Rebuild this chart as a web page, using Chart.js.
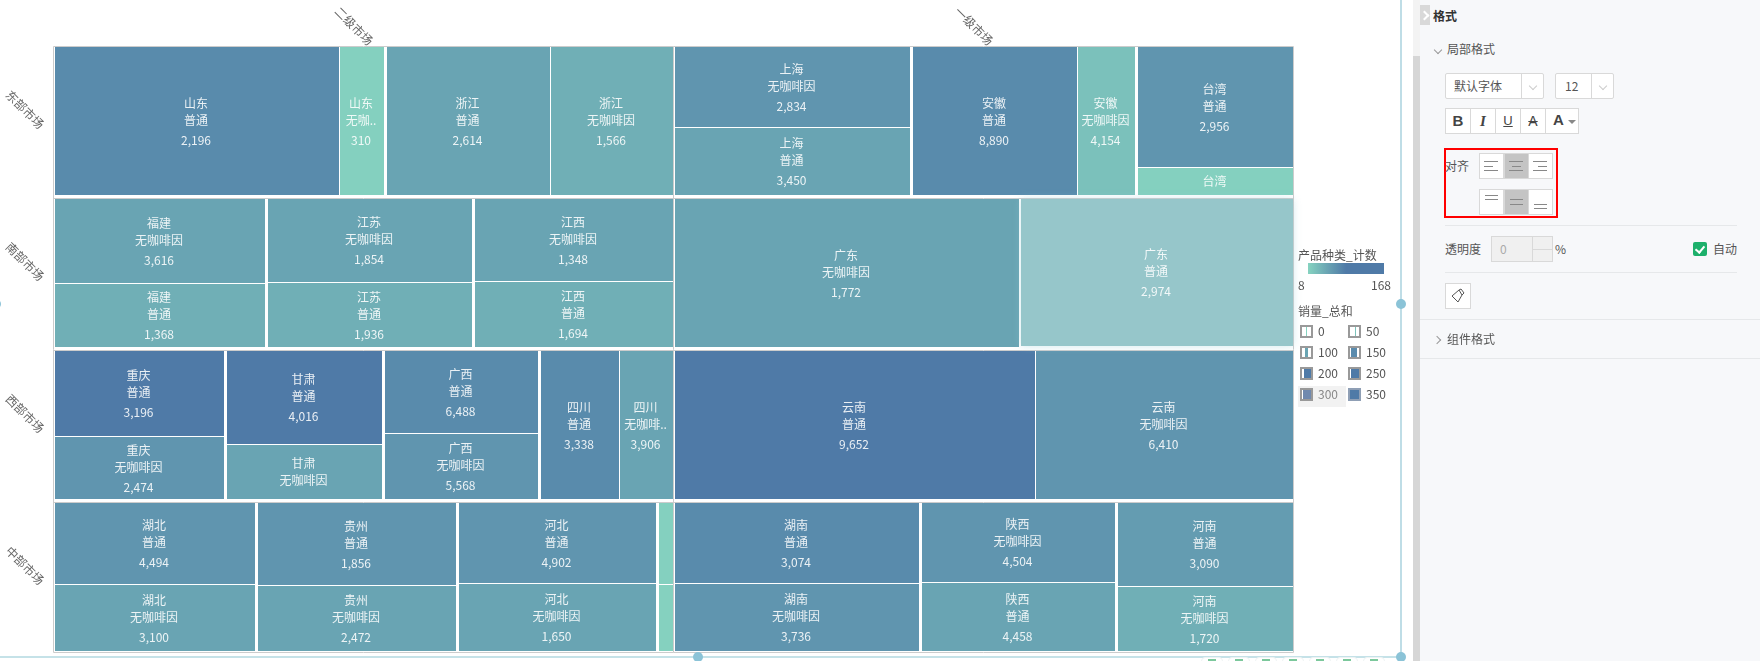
<!DOCTYPE html>
<html>
<head>
<meta charset="utf-8">
<title>产品种类 矩形树图</title>
<script src="https://cdn.jsdelivr.net/npm/chart.js@4"></script>
<style>
    html, body { margin: 0; padding: 0; width: 1760px; height: 661px; overflow: hidden; background: #fff; }
    body { font: 12px "Noto Sans CJK SC", sans-serif; color: #555; position: relative; }
    #chart { position: absolute; left: 0; top: 0; }
    .abs { position: absolute; box-sizing: border-box; }
    .txt { position: absolute; line-height: 16px; white-space: nowrap; }
    .btn { position: absolute; box-sizing: border-box; background: #fff; border: 1px solid #d9d9d9; text-align: center; }
    .line { position: absolute; background: #e6e8ea; height: 1px; }
    .chev { position: absolute; width: 5px; height: 5px; border-right: 1px solid #999; border-bottom: 1px solid #999; }
</style>
</head>
<body>
<canvas id="chart" width="1760" height="661"></canvas>

<!-- selection frame around the chart -->
<div class="abs" style="left:1400px;top:0;width:2px;height:658px;background:#bfdde6"></div>
<div class="abs" style="left:0;top:656px;width:1402px;height:2px;background:#c5e2e8"></div>
<div class="abs" style="left:1396px;top:299px;width:10px;height:10px;border-radius:50%;background:#8bc3d7"></div>
<div class="abs" style="left:693px;top:652px;width:10px;height:10px;border-radius:50%;background:#8bc3d7"></div>
<div class="abs" style="left:1396px;top:652px;width:10px;height:10px;border-radius:50%;background:#8bc3d7"></div>
<div class="abs" style="left:-9px;top:299px;width:10px;height:10px;border-radius:50%;background:#8bc3d7"></div>
<div id="toolbar"></div>

<!-- legends -->
<div class="txt" style="left:1298px;top:247px">产品种类_计数</div>
<div class="abs" style="left:1308px;top:263px;width:76px;height:11px;background:linear-gradient(90deg,#86d3c0 0%,#6aa5b3 25%,#4f7aa7 50%,#4f7aa7 100%)"></div>
<div class="txt" id="countMin" style="left:1298px;top:277px"></div>
<div class="txt" id="countMax" style="right:369px;top:277px"></div>
<div class="txt" style="left:1298px;top:303px">销量_总和</div>
<div id="salesLegend"></div>

<!-- format panel -->
<div class="abs" style="left:1413px;top:0;width:7px;height:661px;background:#f3f3f3"></div>
<div class="abs" style="left:1413px;top:56px;width:7px;height:605px;background:#d6d6d6"></div>
<div class="abs" style="left:1420px;top:0;width:340px;height:661px;background:#f7f8fa"></div>
<div class="abs" style="left:1420px;top:5px;width:10px;height:20px;background:#d9d9d9"></div>
<div class="chev" style="left:1421px;top:12px;border-color:#fff;border-width:2px;transform:rotate(-45deg)"></div>
<div class="txt" style="left:1433px;top:8px;font-weight:bold;color:#333">格式</div>
<div class="chev" style="left:1435px;top:47px;transform:rotate(45deg)"></div>
<div class="txt" style="left:1447px;top:41px">局部格式</div>

<div class="btn" style="left:1445px;top:73px;width:99px;height:26px;border-radius:2px"></div>
<div class="abs" style="left:1521px;top:73px;width:1px;height:26px;background:#d9d9d9"></div>
<div class="txt" style="left:1454px;top:78px">默认字体</div>
<div class="chev" style="left:1530px;top:83px;border-color:#ccc;transform:rotate(45deg)"></div>
<div class="btn" style="left:1555px;top:73px;width:59px;height:26px;border-radius:2px"></div>
<div class="abs" style="left:1591px;top:73px;width:1px;height:26px;background:#d9d9d9"></div>
<div class="txt" style="left:1565px;top:78px">12</div>
<div class="chev" style="left:1600px;top:83px;border-color:#ccc;transform:rotate(45deg)"></div>

<div class="btn" style="left:1445px;top:108px;width:26px;height:26px;font:bold 15px/24px 'Liberation Sans';color:#444">B</div>
<div class="btn" style="left:1470px;top:108px;width:26px;height:26px;font:italic bold 15px/24px 'Liberation Serif';color:#444">I</div>
<div class="btn" style="left:1495px;top:108px;width:26px;height:26px;font:13px/24px 'Liberation Sans';color:#444;text-decoration:underline">U</div>
<div class="btn" style="left:1520px;top:108px;width:26px;height:26px;font:14px/24px 'Liberation Sans';color:#444;text-decoration:line-through">A</div>
<div class="btn" style="left:1545px;top:108px;width:34px;height:26px;font:bold 15px/22px 'Liberation Sans';color:#444;text-align:left;padding-left:7px">A</div>
<div class="abs" style="left:1568px;top:120px;border:4px solid transparent;border-top-color:#888"></div>

<div class="abs" style="left:1444px;top:148px;width:114px;height:70px;border:2px solid #f00"></div>
<div class="txt" style="left:1445px;top:158px">对齐</div>
<div id="alignButtons"></div>

<div class="line" style="left:1445px;top:225px;width:292px"></div>
<div class="txt" style="left:1445px;top:241px">透明度</div>
<div class="btn" style="left:1491px;top:236px;width:62px;height:26px;background:#f0f0f0"></div>
<div class="abs" style="left:1532px;top:236px;width:1px;height:26px;background:#d9d9d9"></div>
<div class="abs" style="left:1532px;top:249px;width:21px;height:1px;background:#d9d9d9"></div>
<div class="txt" style="left:1500px;top:241px;color:#aaa">0</div>
<div class="txt" style="left:1555px;top:241px">%</div>
<div class="abs" style="left:1693px;top:242px;width:14px;height:14px;background:#1db06b;border-radius:2px"></div>
<div class="abs" style="left:1697px;top:244px;width:6px;height:9px;border-right:2px solid #fff;border-bottom:2px solid #fff;transform:rotate(40deg)"></div>
<div class="txt" style="left:1713px;top:241px">自动</div>
<div class="line" style="left:1445px;top:272px;width:292px"></div>
<div class="btn" style="left:1445px;top:283px;width:26px;height:26px"></div>
<svg class="abs" style="left:1450px;top:288px" width="16" height="16" viewBox="0 0 16 16"><path d="M2 8 L9 2 L12 7 L8 14 Z M9 2 L11 1 L14 5 L12 7" fill="none" stroke="#555"/></svg>
<div class="line" style="left:1420px;top:319px;width:340px"></div>
<div class="chev" style="left:1434px;top:337px;transform:rotate(-45deg)"></div>
<div class="txt" style="left:1447px;top:331px">组件格式</div>
<div class="line" style="left:1420px;top:358px;width:340px"></div>

<script>
// Axis categories
const marketNames = ['二级市场', '一级市场'];
const regionNames = ['东部市场', '南部市场', '西部市场', '中部市场'];

// One entry per cell
const cellRegion = [0, 0, 0, 0, 0, 0, 0, 0, 0, 0,
    1, 1, 1, 1, 1, 1, 1, 1,
    2, 2, 2, 2, 2, 2, 2, 2, 2, 2,
    3, 3, 3, 3, 3, 3, 3, 3, 3, 3, 3, 3, 3, 3];
const cellMarket = [0, 0, 0, 0, 1, 1, 1, 1, 1, 1,
    0, 0, 0, 0, 0, 0, 1, 1,
    0, 0, 0, 0, 0, 0, 0, 0, 1, 1,
    0, 0, 0, 0, 0, 0, 0, 0, 1, 1, 1, 1, 1, 1];
const cellProvince = ['山东', '山东', '浙江', '浙江', '上海', '上海', '安徽', '安徽', '台湾', '台湾',
    '福建', '福建', '江苏', '江苏', '江西', '江西', '广东', '广东',
    '重庆', '重庆', '甘肃', '甘肃', '广西', '广西', '四川', '四川', '云南', '云南',
    '湖北', '湖北', '贵州', '贵州', '河北', '河北', '', '', '湖南', '湖南', '陕西', '陕西', '河南', '河南'];
const cellKind = ['普通', '无咖啡因', '普通', '无咖啡因', '无咖啡因', '普通', '普通', '无咖啡因', '普通', '无咖啡因',
    '无咖啡因', '普通', '无咖啡因', '普通', '无咖啡因', '普通', '无咖啡因', '普通',
    '普通', '无咖啡因', '普通', '无咖啡因', '普通', '无咖啡因', '普通', '无咖啡因', '普通', '无咖啡因',
    '普通', '无咖啡因', '普通', '无咖啡因', '普通', '无咖啡因', '普通', '无咖啡因', '普通', '无咖啡因', '无咖啡因', '普通', '普通', '无咖啡因'];
const cellSales = [2196, 310, 2614, 1566, 2834, 3450, 8890, 4154, 2956, null,
    3616, 1368, 1854, 1936, 1348, 1694, 1772, 2974,
    3196, 2474, 4016, null, 6488, 5568, 3338, 3906, 9652, 6410,
    4494, 3100, 1856, 2472, 4902, 1650, null, null, 3074, 3736, 4504, 4458, 3090, 1720];
const cellCount = [138, 14, 92, 72, 120, 92, 138, 40, 120, 14,
    92, 72, 92, 72, 92, 72, 92, 72,
    168, 120, 168, 92, 138, 120, 138, 92, 168, 120,
    120, 92, 120, 92, 120, 92, 14, 12, 138, 120, 120, 92, 106, 72];
const cellSize = [420, 65, 241, 181, 188, 157, 243, 84, 186, 42,
    176, 132, 169, 131, 162, 129, 508, 404,
    143, 105, 144, 84, 125, 99, 115, 78, 533, 380,
    162, 132, 162, 129, 158, 132, 11.3, 9.2, 195, 163, 152, 131, 145, 112];

// Provinces whose two cells lie next to each other instead of on top of each other
const sideBySide = ['山东', '浙江', '安徽', '四川', '云南', '广东'];
const hoveredCell = 17;

// Legends
const countRange = [8, 168];
const salesLegend = [0, 50, 100, 150, 200, 250, 300, 350];

document.getElementById('countMin').textContent = countRange[0];
document.getElementById('countMax').textContent = countRange[1];

const lowColor = [134, 211, 192];
const highColor = [79, 122, 167];

function countColor(count) {
    const t = (count - countRange[0]) / (countRange[1] - countRange[0]);
    const c = lowColor.map((v, i) => Math.round(v + (highColor[i] - v) * t));
    return `rgb(${c[0]},${c[1]},${c[2]})`;
}

// Slice each market cell into provinces, then each province into its two cells
function layoutCells(xScale, yScale) {
    const rects = [];
    regionNames.forEach((_, r) => {
        marketNames.forEach((_, m) => {
            const idx = cellProvince.map((p, i) => i).filter(i => cellRegion[i] === r && cellMarket[i] === m);
            const provinces = [...new Set(idx.map(i => cellProvince[i]))];
            const total = idx.reduce((acc, i) => acc + cellSize[i], 0);
            const left = Math.round(xScale.getPixelForValue(m)) + 1;
            const right = Math.round(xScale.getPixelForValue(m + 1)) - 1;
            const top = Math.ceil(yScale.getPixelForValue(r));
            const bottom = Math.floor(yScale.getPixelForValue(r + 1)) - 3;
            const free = right - left - 3 * (provinces.length - 1);
            let cursor = left;
            provinces.forEach((name, n) => {
                const [a, b] = idx.filter(i => cellProvince[i] === name);
                const sum = cellSize[a] + cellSize[b];
                const end = n === provinces.length - 1 ? right : Math.round(cursor + free * sum / total);
                if (sideBySide.includes(name)) {
                    const mid = Math.round(cursor + (end - cursor - 1) * cellSize[a] / sum);
                    rects[a] = { l: cursor, r: mid, t: top, b: bottom };
                    rects[b] = { l: mid + 1, r: end, t: top, b: bottom };
                } else {
                    const mid = Math.round(top + (bottom - top - 1) * cellSize[a] / sum);
                    rects[a] = { l: cursor, r: end, t: top, b: mid };
                    rects[b] = { l: cursor, r: end, t: mid + 1, b: bottom };
                }
                cursor = end + 3;
            });
        });
    });
    return rects;
}

// Chart.js has no treemap type, so register a small one that reuses its bar element
class TreemapController extends Chart.DatasetController {
    update() {
        const meta = this._cachedMeta;
        this.updateElements(meta.data, 0, meta.data.length, 'none');
    }

    updateElements(cells, start, count) {
        const rects = layoutCells(this.chart.scales.x, this.chart.scales.y);
        for (let i = start; i < start + count; i++) {
            const rc = rects[i];
            if (i === hoveredCell) {
                rc.l += 1;
                rc.b -= 1;
            }
            this.updateElement(cells[i], i, {
                x: (rc.l + rc.r) / 2,
                y: rc.t,
                base: rc.b,
                width: rc.r - rc.l,
                height: rc.b - rc.t,
                horizontal: false,
                inflateAmount: 0,
                borderSkipped: { top: false, left: false, bottom: false, right: false },
                options: {
                    backgroundColor: i === hoveredCell ? '#96c6ca' : countColor(cellCount[i]),
                    borderColor: 'transparent',
                    borderWidth: 0,
                    borderRadius: 0
                }
            }, 'none');
        }
    }

    draw() {
        const ctx = this.chart.ctx;
        this._cachedMeta.data.forEach((cell, i) => {
            if (i === hoveredCell) return;
            cell.draw(ctx);
        });
        // hovered cell goes last, with its soft glow
        ctx.save();
        ctx.shadowColor = 'rgba(150,205,215,0.45)';
        ctx.shadowBlur = 8;
        this._cachedMeta.data[hoveredCell].draw(ctx);
        ctx.restore();
    }
}
TreemapController.id = 'treemap';
TreemapController.defaults = { dataElementType: 'bar', datasetElementType: false };
Chart.register(TreemapController);

const frameLines = {
    id: 'frameLines',
    beforeDatasetsDraw(chart) {
        const { ctx, scales: { x, y } } = chart;
        const top = y.getPixelForValue(0);
        const bottom = y.getPixelForValue(regionNames.length) - 2;
        ctx.save();
        ctx.strokeStyle = '#cccccc';
        ctx.lineWidth = 1;
        ctx.beginPath();
        marketNames.concat('').forEach((_, m) => {
            const px = x.getPixelForValue(m) - 0.5;
            ctx.moveTo(px, top);
            ctx.lineTo(px, bottom);
        });
        regionNames.concat('').forEach((_, r) => {
            const py = r === regionNames.length ? bottom : y.getPixelForValue(r);
            ctx.moveTo(x.left - 0.5, py);
            ctx.lineTo(x.right - 0.5, py);
        });
        ctx.stroke();
        ctx.restore();
    }
};

const axisLabels = {
    id: 'axisLabels',
    afterDraw(chart) {
        const { ctx, scales: { x, y } } = chart;
        ctx.save();
        ctx.font = '12px "Noto Sans CJK SC"';
        ctx.fillStyle = '#666';
        ctx.textAlign = 'center';
        ctx.textBaseline = 'middle';
        const rotated = (text, px, py) => {
            ctx.save();
            ctx.translate(px, py);
            ctx.rotate(Math.PI / 4);
            ctx.fillText(text, 0, 0);
            ctx.restore();
        };
        marketNames.forEach((name, m) => rotated(name, x.getPixelForValue(m + 0.5) - 10, 26));
        regionNames.forEach((name, r) => rotated(name, 25, y.getPixelForValue(r + 0.5) - 13));
        ctx.restore();
    }
};

const cellLabels = {
    id: 'cellLabels',
    afterDatasetsDraw(chart) {
        const { ctx } = chart;
        ctx.save();
        ctx.font = '12px "Noto Sans CJK SC"';
        ctx.fillStyle = 'rgba(255,255,255,0.88)';
        ctx.textAlign = 'center';
        ctx.textBaseline = 'middle';
        chart.getDatasetMeta(0).data.forEach((cell, i) => {
            const h = cell.base - cell.y;
            if (cell.width < 20) return;
            const cy = cell.y + h / 2;
            const tx = cell.x - 1;
            const fit = text => {
                const room = cell.width - 8;
                if (ctx.measureText(text).width <= room) return text;
                let n = text.length - 1;
                while (n > 1 && ctx.measureText(text.slice(0, n) + '..').width > room) n--;
                return text.slice(0, n) + '..';
            };
            if (h >= 60 && cellSales[i] !== null) {
                ctx.fillText(fit(cellProvince[i]), tx, cy - 18);
                ctx.fillText(fit(cellKind[i]), tx, cy - 1);
                ctx.fillText(cellSales[i].toLocaleString('en-US'), tx, cy + 19);
            } else if (h >= 36) {
                ctx.fillText(fit(cellProvince[i]), tx, cy - 9);
                ctx.fillText(fit(cellKind[i]), tx, cy + 8);
            } else {
                ctx.fillText(fit(cellProvince[i]), tx, cy);
            }
        });
        ctx.restore();
    }
};

new Chart(document.getElementById('chart'), {
    type: 'treemap',
    data: {
        datasets: [{
            clip: false,
            data: cellSize.map((size, i) => ({ x: cellMarket[i] + 0.5, y: cellRegion[i] + 0.5 }))
        }]
    },
    options: {
        responsive: false,
        animation: false,
        layout: { padding: { left: 54, top: 46.5, right: 466, bottom: 6.5 } },
        scales: {
            x: { type: 'linear', display: false, min: 0, max: marketNames.length },
            y: { type: 'linear', display: false, min: 0, max: regionNames.length, reverse: true }
        },
        plugins: { legend: { display: false }, tooltip: { enabled: false } },
        events: []
    },
    plugins: [frameLines, cellLabels, axisLabels]
});

// Pattern swatches of the sales legend
const swatchFill = [
    'linear-gradient(90deg,#fff 45%,#86d3c0 45%,#86d3c0 58%,#fff 58%)',
    'linear-gradient(90deg,#fff 58%,#7cc3bb 58%,#7cc3bb 72%,#fff 72%)',
    'linear-gradient(90deg,#fff 28%,#6aa5b3 28%,#6aa5b3 68%,#fff 68%)',
    'linear-gradient(90deg,#fff 14%,#5a8bad 14%,#5a8bad 78%,#fff 78%)',
    'linear-gradient(90deg,#fff 18%,#4f7aa7 18%)',
    'linear-gradient(90deg,#fff 12%,#4f7aa7 12%)',
    'linear-gradient(90deg,#fff 8%,#7089ae 8%)',
    '#4f7aa7'
];
document.getElementById('salesLegend').innerHTML = salesLegend.map((v, i) => {
    const left = 1300 + (i % 2) * 48;
    const top = 325 + Math.floor(i / 2) * 21;
    const faded = v === 300;
    return (faded ? `<div class="abs" style="left:1298px;top:${top - 2}px;width:48px;height:21px;background:#f2f2f2"></div>` : '') +
        `<div class="abs" style="left:${left}px;top:${top}px;width:13px;height:13px;border:2px solid ${v === 350 ? '#8f9fb5' : '#999'};background:${swatchFill[i]}"></div>` +
        `<div class="txt" style="left:${left + 18}px;top:${top - 2}px;color:${faded ? '#888' : '#555'}">${v}</div>`;
}).join('');

// Alignment buttons in the panel
const alignHoriz = [[4, 4, 4], [4, 6, 4], [4, 9, 4]];
const alignVert = [[5, 9], [9, 14], [14, 18]];
const hLineY = [7, 12, 16];
const hLineW = [14, 9, 14];
const markDiv = (x, y, w) => `<div class="abs" style="left:${x}px;top:${y}px;width:${w}px;height:1px;background:#888"></div>`;
const alignBtn = (col, top, marks) => `<div class="btn" style="left:${1479 + col * 24.5}px;top:${top}px;width:25px;height:26px;background:${col === 1 ? '#c4c4c4' : '#fff'}">${marks}</div>`;
document.getElementById('alignButtons').innerHTML =
    [0, 1, 2].map(col => alignBtn(col, 153, hLineY.map((y, n) => {
        const x = col === 0 ? 4 : col === 1 ? 4.5 + (14 - hLineW[n]) / 2 : 18 - hLineW[n];
        return markDiv(x, y, hLineW[n]);
    }).join(''))).join('') +
    [0, 1, 2].map(col => alignBtn(col, 189, alignVert[col].map(y => markDiv(5, y, 13)).join(''))).join('');

// Toolbar pills that stick out under the chart frame
document.getElementById('toolbar').innerHTML = [1201, 1228, 1255, 1282, 1309, 1336, 1363].map(x =>
    `<div class="abs" style="left:${x}px;top:657px;width:22px;height:8px;border-radius:5px;background:#fff;border:1px solid #eef3f3"></div>` +
    `<div class="abs" style="left:${x + 7}px;top:659px;width:8px;height:2px;background:#7cc89c"></div>`
).join('');
</script>
</body>
</html>
